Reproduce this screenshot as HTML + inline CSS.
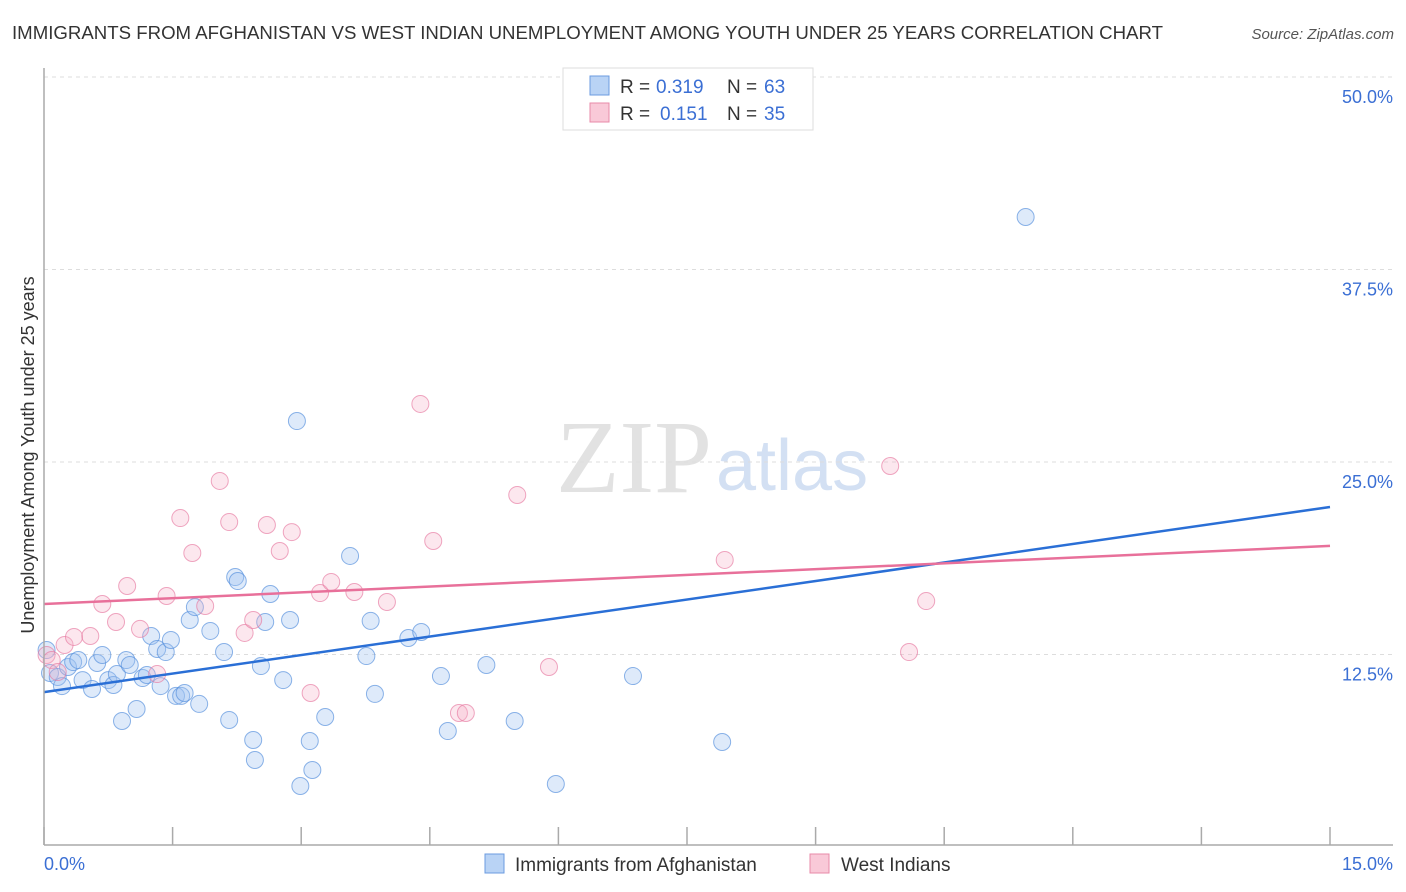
<!DOCTYPE html>
<html><head><meta charset="utf-8"><style>
body{margin:0;background:#fff;font-family:"Liberation Sans",sans-serif;}
svg{display:block}
</style></head><body>
<svg id="chart" width="1406" height="892">
<text x="12" y="39" font-size="18" fill="#333" textLength="1151" lengthAdjust="spacingAndGlyphs">IMMIGRANTS FROM AFGHANISTAN VS WEST INDIAN UNEMPLOYMENT AMONG YOUTH UNDER 25 YEARS CORRELATION CHART</text>
<text x="1394" y="39" font-size="15" fill="#555" font-style="italic" text-anchor="end">Source: ZipAtlas.com</text>
<text x="712" y="492" font-size="104" fill="#e2e2e2" text-anchor="end" font-family="Liberation Serif,serif">ZIP</text>
<text x="716" y="490" font-size="72" fill="#d3e0f3">atlas</text>
<text transform="translate(34,455) rotate(-90)" font-size="18" fill="#333" text-anchor="middle">Unemployment Among Youth under 25 years</text>
<g id="grid"></g><g id="pts"></g><g id="lines"></g>
<line x1="44" y1="68" x2="44" y2="845" stroke="#aaa" stroke-width="1.5"/>
<line x1="44" y1="845" x2="1393" y2="845" stroke="#aaa" stroke-width="1.5"/>
<text x="44" y="870" font-size="18" fill="#3b6fd4">0.0%</text>
<text x="1393" y="870" font-size="18" fill="#3b6fd4" text-anchor="end">15.0%</text>
<g>
<rect x="563" y="68" width="250" height="62" fill="#fff" stroke="#ddd"/>
<rect x="590" y="76" width="19" height="19" fill="#b9d3f5" stroke="#6b9be0"/>
<rect x="590" y="103" width="19" height="19" fill="#f9c9d8" stroke="#e88aa8"/>
<text x="620" y="93" font-size="19" fill="#333">R =</text>
<text x="656" y="93" font-size="19" fill="#3b6fd4">0.319</text>
<text x="727" y="93" font-size="19" fill="#333">N =</text>
<text x="764" y="93" font-size="19" fill="#3b6fd4">63</text>
<text x="620" y="120" font-size="19" fill="#333">R =</text>
<text x="660" y="120" font-size="19" fill="#3b6fd4">0.151</text>
<text x="727" y="120" font-size="19" fill="#333">N =</text>
<text x="764" y="120" font-size="19" fill="#3b6fd4">35</text>
</g>
<g>
<rect x="485" y="854" width="19" height="19" fill="#b9d3f5" stroke="#6b9be0"/>
<text x="515" y="871" font-size="19" fill="#333">Immigrants from Afghanistan</text>
<rect x="810" y="854" width="19" height="19" fill="#f9c9d8" stroke="#e88aa8"/>
<text x="841" y="871" font-size="19" fill="#333">West Indians</text>
</g>
</svg>
<script>
const yTicks=[12.5,25,37.5,50];
const yTickLabels=["12.5%","25.0%","37.5%","50.0%"];
const xTicks=[0,1.5,3,4.5,6,7.5,9,10.5,12,13.5,15];
const blueX=[0.03,0.07,0.16,0.21,0.28,0.34,0.40,0.45,0.56,0.62,0.68,0.75,0.81,0.85,0.91,0.96,1.00,1.08,1.15,1.20,1.25,1.32,1.36,1.42,1.48,1.54,1.60,1.64,1.70,1.76,1.81,1.94,2.10,2.16,2.23,2.26,2.44,2.46,2.53,2.58,2.64,2.79,2.87,2.95,2.99,3.10,3.13,3.28,3.57,3.76,3.81,3.86,4.25,4.40,4.63,4.71,5.16,5.49,5.97,6.87,7.91,11.45];
const blueY=[12.79,11.30,11.04,10.45,11.69,12.01,12.14,10.84,10.26,11.95,12.47,10.84,10.52,11.23,8.18,12.14,11.82,8.96,10.97,11.17,13.70,12.86,10.45,12.66,13.44,9.81,9.81,10.00,14.74,15.58,9.29,14.03,12.66,8.25,17.53,17.27,6.95,5.65,11.75,14.61,16.43,10.84,14.74,27.66,3.96,6.88,5.00,8.44,18.90,12.40,14.68,9.94,13.57,13.96,11.10,7.53,11.82,8.18,4.09,11.10,6.82,40.91];
const pinkX=[0.03,0.09,0.16,0.24,0.35,0.54,0.68,0.84,0.97,1.12,1.32,1.43,1.59,1.73,1.88,2.05,2.16,2.34,2.44,2.60,2.75,2.89,3.11,3.22,3.35,3.62,4.00,4.39,4.54,4.84,4.92,5.52,5.89,7.94,9.87,10.09,10.29];
const pinkY=[12.47,12.14,11.36,13.12,13.64,13.70,15.78,14.61,16.95,14.16,11.23,16.30,21.36,19.09,15.65,23.77,21.10,13.90,14.74,20.91,19.22,20.45,10.00,16.49,17.21,16.56,15.91,28.77,19.87,8.70,8.70,22.86,11.69,18.64,24.74,12.66,15.97];
const blueTrend=[10.06,22.08];
const pinkTrend=[15.78,19.55];
const NS="http://www.w3.org/2000/svg";
const sx=v=>44+v/15*1286;
const sy=v=>847-v*15.4;
function mk(tag,attrs,parent){const e=document.createElementNS(NS,tag);for(const k in attrs)e.setAttribute(k,attrs[k]);document.getElementById(parent).appendChild(e);return e;}
yTicks.forEach((t,i)=>{
 const l=mk('line',{x1:44,x2:1393,y1:sy(t),y2:sy(t),stroke:'#ddd','stroke-dasharray':'4,4'},'grid');
 
 
 const tx=mk('text',{x:1393,y:sy(t)+26,'font-size':18,fill:'#3b6fd4','text-anchor':'end'},'grid');
 tx.textContent=yTickLabels[i];
 
 
});
xTicks.forEach(t=>{
 const l=mk('line',{x1:sx(t),x2:sx(t),y1:827,y2:845,stroke:'#aaa','stroke-width':1.5},'grid');
 
 
});
blueX.forEach((x,i)=>{
 const c=mk('circle',{cx:sx(x),cy:sy(blueY[i]),r:8.5,fill:'rgba(160,195,240,0.35)',stroke:'rgba(80,140,220,0.65)','stroke-width':1},'pts');
 
 
});
pinkX.forEach((x,i)=>{
 const c=mk('circle',{cx:sx(x),cy:sy(pinkY[i]),r:8.5,fill:'rgba(245,175,200,0.3)',stroke:'rgba(230,120,160,0.65)','stroke-width':1},'pts');
 
 
});
const bl=mk('line',{x1:sx(0),y1:sy(blueTrend[0]),x2:sx(15),y2:sy(blueTrend[1]),stroke:'#2a6fd6','stroke-width':2.5},'lines');


const pl=mk('line',{x1:sx(0),y1:sy(pinkTrend[0]),x2:sx(15),y2:sy(pinkTrend[1]),stroke:'#e8709a','stroke-width':2.5},'lines');


</script>
</body></html>
